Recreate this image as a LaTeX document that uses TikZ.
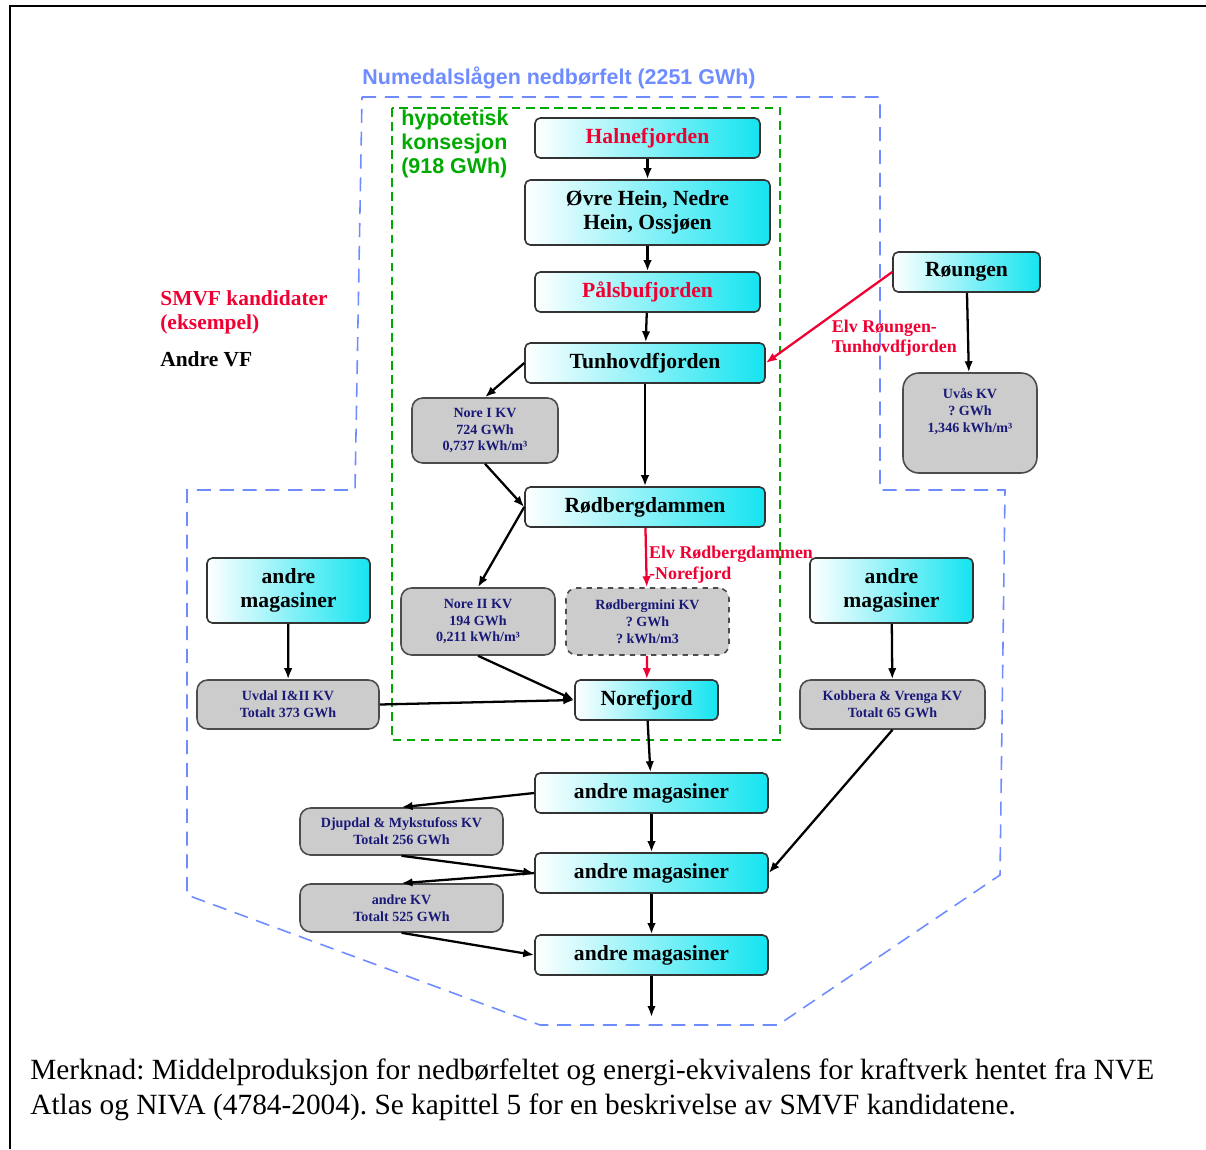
\documentclass[tikz,border=0pt]{standalone}
\usepackage{fontspec}
\setmainfont{Liberation Serif}
\newfontfamily\sansbold{Liberation Sans}
\usetikzlibrary{arrows.meta,positioning}
\frenchspacing

\definecolor{smvfred}{RGB}{240,0,50}
\definecolor{feltblue}{RGB}{110,140,255}
\definecolor{konsgreen}{RGB}{0,170,0}
\definecolor{magcyan}{RGB}{20,228,240}
\definecolor{kvgray}{RGB}{204,204,204}
\definecolor{kvblue}{RGB}{25,25,120}

\begin{document}
\begin{tikzpicture}[
  x=0.02cm, y=-0.02cm,
  mag/.style={draw=black!80, line width=0.9pt, rounded corners=3pt, left color=white, right color=magcyan,
    align=center, inner sep=2pt, minimum height=0.8cm, font=\fontsize{12.3}{13.5}\selectfont\bfseries},
  kv/.style={draw=black!70, line width=0.9pt, rounded corners=6pt, fill=kvgray, align=center, inner sep=2pt,
    text=kvblue, font=\fontsize{8}{9.6}\selectfont\bfseries},
  arr/.style={-{Latex[length=2.2mm,width=1.7mm]}, line width=1.3pt},
  redarr/.style={arr, draw=smvfred},
  redlbl/.style={text=smvfred, align=left, inner sep=1pt, font=\fontsize{10.2}{11}\selectfont\bfseries}
]
\useasboundingbox (0,0) rectangle (1206,1149);
% frame
\draw[line width=0.8pt] (1206,6) -- (10,6) -- (10,1149);

% catchment and concession
\draw[feltblue, line width=0.9pt, dash pattern=on 8pt off 5pt]
  (362,97) -- (880,97) -- (880,490) -- (1005,490) -- (1000,875) -- (778,1025)
  -- (540,1025) -- (187,895) -- (187,490) -- (355,490) -- cycle;
\draw[konsgreen, line width=0.9pt, dash pattern=on 5pt off 3pt] (392,108) rectangle (780,740);
\node[text=feltblue, font=\sansbold\fontsize{12.2}{13}\selectfont\bfseries] (felt) at (559,78) {Numedalslågen nedbørfelt (2251 GWh)};
\node[anchor=north west, text=konsgreen, align=left, inner sep=0pt,
  font=\sansbold\fontsize{12.2}{13.6}\selectfont\bfseries] (kons) at (401,110) {hypotetisk\\konsesjon\\(918 GWh)};

% legend
\node[anchor=north west, text=smvfred, align=left, inner sep=0pt,
  font=\fontsize{12.2}{13.6}\selectfont\bfseries] (smvf) at (160,290) {SMVF kandidater\\(eksempel)};
\node[anchor=north west, inner sep=0pt, font=\fontsize{12.2}{13.6}\selectfont\bfseries] (andrevf) at (160,351) {Andre VF};

% reservoirs
\node[mag, text=smvfred, minimum width=4.5cm] (halne) at (647.5,138) {Halnefjorden};
\node[mag, minimum width=4.9cm, minimum height=1.3cm] (ovre) at (647.5,212.5) {Øvre Hein, Nedre\\Hein, Ossjøen};
\node[mag, text=smvfred, minimum width=4.5cm] (palsbu) at (647.5,292) {Pålsbufjorden};
\node[mag, minimum width=4.8cm] (tunhovd) at (645,363) {Tunhovdfjorden};
\node[mag, minimum width=4.8cm] (rodberg) at (645,507) {Rødbergdammen};
\node[mag, minimum width=2.86cm] (nore) at (646.5,700) {Norefjord};
\node[mag, minimum width=4.66cm] (mag1) at (651.5,793) {andre magasiner};
\node[mag, minimum width=4.66cm] (mag2) at (651.5,873) {andre magasiner};
\node[mag, minimum width=4.66cm] (mag3) at (651.5,955) {andre magasiner};
\node[mag, minimum width=2.94cm] (roungen) at (966.5,272) {Røungen};
\node[mag, minimum width=3.26cm, minimum height=1.3cm] (magL) at (288.5,590.5) {andre\\magasiner};
\node[mag, minimum width=3.26cm, minimum height=1.3cm] (magR) at (891.5,590.5) {andre\\magasiner};

% power plants
\node[kv, minimum width=2.92cm, minimum height=1.3cm] (nore1) at (485,430.5) {Nore I KV\\724 GWh\\0,737 kWh/m³};
\node[kv, minimum width=2.68cm, minimum height=2cm, rounded corners=9pt] (uvas) at (970,423) {Uvås KV\\? GWh\\1,346 kWh/m³\\[5pt]\mbox{}};
\node[kv, minimum width=3.08cm, minimum height=1.34cm] (nore2) at (478,621.5) {Nore II KV\\194 GWh\\0,211 kWh/m³};
\node[kv, dashed, minimum width=3.26cm, minimum height=1.34cm] (minikv) at (647.5,621.5) {Rødbergmini KV\\? GWh\\? kWh/m3};
\node[kv, minimum width=3.64cm, minimum height=0.98cm] (uvdal) at (288,704.5) {Uvdal I\&II KV\\Totalt 373 GWh};
\node[kv, minimum width=3.7cm, minimum height=0.98cm] (kobber) at (892.5,704.5) {Kobbera \& Vrenga KV\\Totalt 65 GWh};
\node[kv, minimum width=4.06cm, minimum height=0.94cm] (djupdal) at (401.5,831.5) {Djupdal \& Mykstufoss KV\\Totalt 256 GWh};
\node[kv, minimum width=4.06cm, minimum height=0.96cm] (andrekv) at (401.5,908) {andre KV\\Totalt 525 GWh};
\coordinate (outlet) at (651.5,1017);

% flow
\draw[arr] (halne) -- (ovre);
\draw[arr] (ovre) -- (palsbu);
\draw[arr] (palsbu) -- (tunhovd);
\draw[arr] (tunhovd) -- (rodberg);
\draw[arr] (tunhovd.west) -- (nore1.north);
\draw[arr] (nore1.south) -- (rodberg.west);
\draw[arr] (rodberg.west) -- (nore2.north);
\draw[arr] (nore2.south) -- (nore.west);
\draw[arr] (uvdal.east) -- (nore.west);
\draw[arr] (magL) -- (uvdal);
\draw[arr] (magR) -- (kobber);
\draw[arr] (roungen) -- (uvas);
\draw[arr] (nore) -- (mag1);
\draw[arr] (mag1.west) -- (djupdal.north);
\draw[arr] (mag1) -- (mag2);
\draw[arr] (djupdal.south) -- (mag2.west);
\draw[arr] (mag2.west) -- (andrekv.north);
\draw[arr] (andrekv.south) -- (mag3.west);
\draw[arr] (kobber.south) -- (mag2.east);
\draw[arr] (mag2) -- (mag3);
\draw[arr] (mag3) -- (outlet);
\draw[redarr] (roungen.west) -- node[redlbl, pos=0.5, anchor=north west]{Elv Røungen-\\Tunhovdfjorden} (tunhovd.east);
\draw[redarr] (rodberg) -- node[redlbl, pos=0.62, anchor=west, font=\fontsize{10.2}{12}\selectfont\bfseries]{Elv Rødbergdammen\\-Norefjord} (minikv);
\draw[redarr] (minikv) -- (nore);

% note
\node[anchor=north west, align=left, inner sep=0pt, font=\fontsize{16.7}{20.4}\selectfont] (merknad) at (30,1058)
  {Merknad: Middelproduksjon for nedbørfeltet og energi-ekvivalens for kraftverk hentet fra NVE\\Atlas og NIVA (4784-2004). Se kapittel 5 for en beskrivelse av SMVF kandidatene.};
\end{tikzpicture}
\end{document}
